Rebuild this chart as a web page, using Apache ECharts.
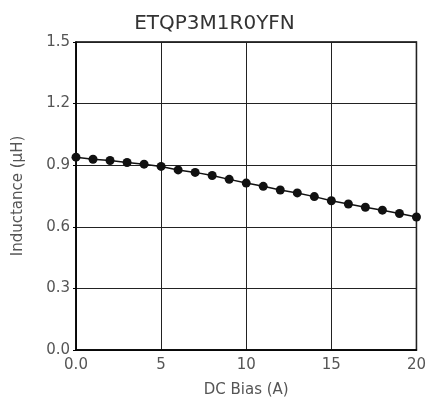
<!DOCTYPE html>
<html><head><meta charset="utf-8">
<script src="https://cdn.jsdelivr.net/npm/echarts@6/dist/echarts.min.js"></script>
<style>html,body{margin:0;padding:0;background:#fff}#c{width:429px;height:403px}</style>
</head><body><div id="c"></div>
<script>
const titleText = "ETQP3M1R0YFN";
const xName = "DC Bias (A)";
const yName = "Inductance (µH)";
const dcBias = [0,1,2,3,4,5,6,7,8,9,10,11,12,13,14,15,16,17,18,19,20];
const inductance = [0.939,0.929,0.923,0.913,0.905,0.894,0.877,0.865,0.850,0.831,0.813,0.797,0.779,0.765,0.747,0.727,0.711,0.695,0.681,0.665,0.648];
const font = "DejaVu Sans";
const fw = 'normal';
const tc = '#555';
const chart = echarts.init(document.getElementById('c'));
chart.setOption({
  animation:false,
  title:{text:titleText,left:'center',top:9,textStyle:{fontFamily:font,fontWeight:fw,fontSize:20,color:'#333'}},
  grid:{left:76,right:9,top:42,bottom:52,show:true,borderColor:'#000',borderWidth:1.5},
  xAxis:{type:'value',min:0,max:20,interval:5,name:xName,nameLocation:'middle',nameGap:33,
    nameTextStyle:{fontFamily:font,fontWeight:fw,fontSize:15,color:tc},
    axisLine:{show:true,lineStyle:{color:'#000',width:1.5}},axisTick:{show:false},
    axisLabel:{fontFamily:font,fontWeight:fw,fontSize:15,color:tc,margin:8,formatter:v=>v===0?'0.0':String(v)},
    splitLine:{show:true,lineStyle:{color:'#222',width:1}}},
  yAxis:{type:'value',min:0,max:1.5,interval:0.3,name:yName,nameLocation:'middle',nameGap:50,
    nameTextStyle:{fontFamily:font,fontWeight:fw,fontSize:15,color:tc},
    axisLine:{show:true,lineStyle:{color:'#000',width:1.5}},axisTick:{show:true,length:3,lineStyle:{color:'#000'}},
    axisLabel:{fontFamily:font,fontWeight:fw,fontSize:15,color:tc,margin:6,formatter:v=>v.toFixed(1)},
    splitLine:{show:true,lineStyle:{color:'#222',width:1}}},
  series:[{type:'line',data:dcBias.map((x,i)=>[x,inductance[i]]),symbol:'circle',symbolSize:9,
    itemStyle:{color:'#111'},lineStyle:{color:'#111',width:1.5}}]
});
</script></body></html>
